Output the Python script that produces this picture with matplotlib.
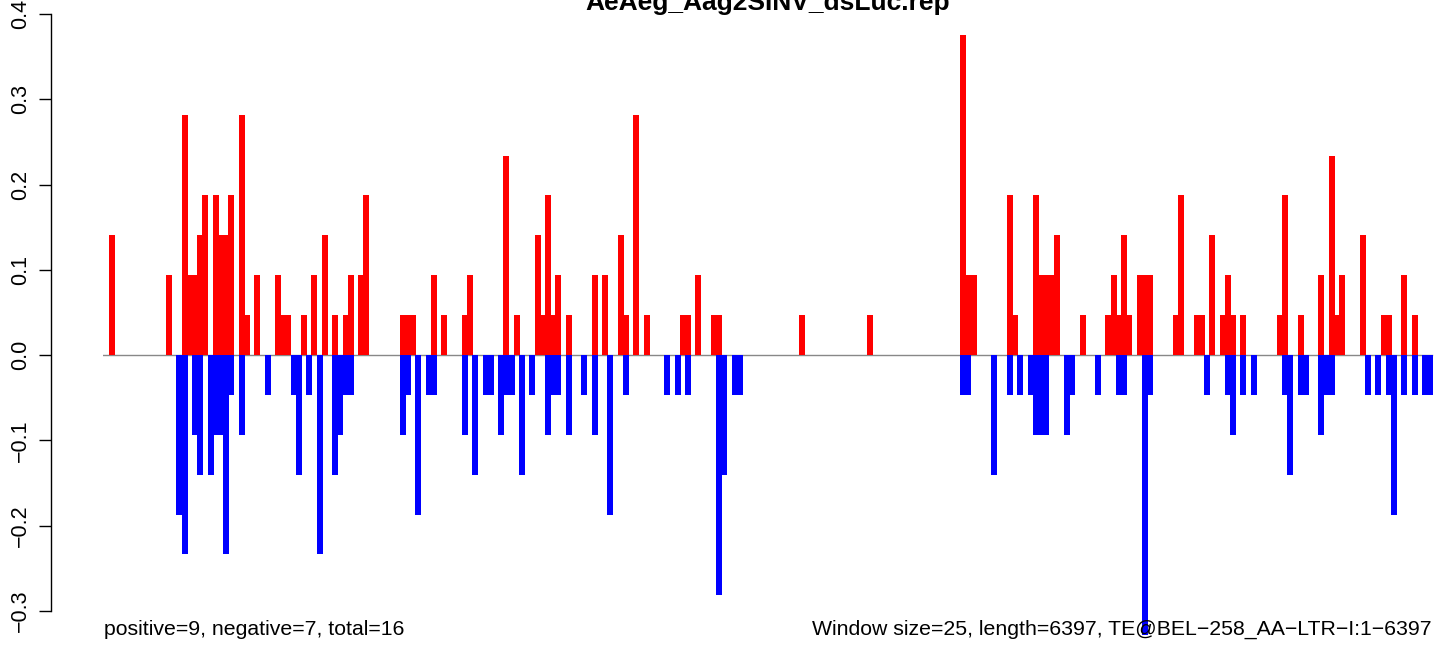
import matplotlib
matplotlib.use("Agg")
import matplotlib.pyplot as plt

# ---------------- data ----------------
title = "AeAeg_Aag2SINV_dsLuc.rep"
left_note = "positive=9, negative=7, total=16"
right_note = "Window size=25, length=6397, TE@BEL\u2212258_AA\u2212LTR\u2212I:1\u22126397"

y_ticks = [-0.3, -0.2, -0.1, 0.0, 0.1, 0.2, 0.3, 0.4]
y_tick_labels = ["\u22120.3", "\u22120.2", "\u22120.1", "0.0", "0.1", "0.2", "0.3", "0.4"]

# window indices (25 bp windows) and values of the positive (red) strand
pos_windows = [0, 11, 14, 15, 16, 17, 18, 20, 21, 22, 23, 25, 26, 28,
               32, 33, 34, 37, 39, 41, 43, 45, 46, 48, 49, 56, 57, 58, 62,
               64, 68, 69, 76, 78, 82, 83, 84, 85, 86, 88, 93,
               95, 98, 99, 101, 103, 110, 111, 113, 116, 117,
               133, 146,
               164, 165, 166, 173, 174, 178, 179, 180, 181, 182, 187, 192,
               193, 194, 195, 196, 198, 199, 200, 205, 206, 209, 210, 212,
               214, 215, 216, 218,
               225, 226, 229, 233, 235, 236, 237, 241, 245, 246, 249, 251]
pos_values = [0.141, 0.094, 0.281, 0.094, 0.094, 0.141, 0.188, 0.188, 0.141, 0.141, 0.188, 0.281, 0.047, 0.094,
              0.094, 0.047, 0.047, 0.047, 0.094, 0.141, 0.047, 0.047, 0.094, 0.094, 0.188, 0.047, 0.047, 0.047, 0.094,
              0.047, 0.047, 0.094, 0.234, 0.047, 0.141, 0.047, 0.188, 0.047, 0.094, 0.047, 0.094,
              0.094, 0.141, 0.047, 0.281, 0.047, 0.047, 0.047, 0.094, 0.047, 0.047,
              0.047, 0.047,
              0.375, 0.094, 0.094, 0.188, 0.047, 0.188, 0.094, 0.094, 0.094, 0.141, 0.047, 0.047,
              0.094, 0.047, 0.141, 0.047, 0.094, 0.094, 0.094, 0.047, 0.188, 0.047, 0.047, 0.141,
              0.047, 0.094, 0.047, 0.047,
              0.047, 0.188, 0.047, 0.094, 0.234, 0.047, 0.094, 0.141, 0.047, 0.047, 0.094, 0.047]

# window indices and values of the negative (blue) strand
neg_windows = [13, 14, 16, 17, 19, 20, 21, 22, 23, 25, 30,
               35, 36, 38, 40, 43, 44, 45, 46, 56, 57, 59, 61, 62,
               68, 70, 72, 73, 75, 76, 77, 79, 81, 84, 85, 86, 88, 91, 93,
               96, 99, 107, 109, 111, 117, 118, 120, 121,
               164, 165, 170, 173, 175, 177, 178, 179, 180, 184, 185, 190,
               194, 195, 199, 200, 211, 215, 216, 218, 220,
               226, 227, 229, 230, 233, 234, 235, 242, 244, 246, 247, 249, 251, 253, 254]
neg_values = [-0.188, -0.234, -0.094, -0.141, -0.141, -0.094, -0.094, -0.234, -0.047, -0.094, -0.047,
              -0.047, -0.141, -0.047, -0.234, -0.141, -0.094, -0.047, -0.047, -0.094, -0.047, -0.188, -0.047, -0.047,
              -0.094, -0.141, -0.047, -0.047, -0.094, -0.047, -0.047, -0.141, -0.047, -0.094, -0.047, -0.047, -0.094, -0.047, -0.094,
              -0.188, -0.047, -0.047, -0.047, -0.047, -0.281, -0.141, -0.047, -0.047,
              -0.047, -0.047, -0.141, -0.047, -0.047, -0.047, -0.094, -0.094, -0.094, -0.094, -0.047, -0.047,
              -0.047, -0.047, -0.328, -0.047, -0.047, -0.047, -0.094, -0.047, -0.047,
              -0.047, -0.141, -0.047, -0.047, -0.094, -0.047, -0.047, -0.047, -0.047, -0.047, -0.188, -0.047, -0.047, -0.047, -0.047]

# ---------------- figure ----------------
W, H, DPI = 1444, 656, 100
plt.rcParams['font.family'] = ['Liberation Sans', 'DejaVu Sans']

fig = plt.figure(figsize=(W / DPI, H / DPI), dpi=DPI)

# layout in pixels
ax_left_px, ax_right_px = 103, 1436
ax_top_px, ax_bot_px = 5, 645
zero_px = 355.0
px_per_unit_y = 852.5          # pixels per 1.0 on the y axis
first_bar_px, win_px = 112.0, 5.19

ax = fig.add_axes([ax_left_px / W, 1 - ax_bot_px / H,
                   (ax_right_px - ax_left_px) / W, (ax_bot_px - ax_top_px) / H])
ax.set_xlim((ax_left_px - first_bar_px) / win_px, (ax_right_px - first_bar_px) / win_px)
ax.set_ylim(-(ax_bot_px - zero_px) / px_per_unit_y, (zero_px - ax_top_px) / px_per_unit_y)

bar_w = 6.0 / win_px
ax.axhline(0, xmin=0, xmax=(1432 - ax_left_px) / (ax_right_px - ax_left_px),
           color='#888888', lw=1.0, zorder=1)
ax.bar(pos_windows, pos_values, width=bar_w, color='#FF0000', linewidth=0,
       zorder=2, clip_on=False)
ax.bar(neg_windows, neg_values, width=bar_w, color='#0000FF', linewidth=0,
       zorder=2, clip_on=False)

for s in ['top', 'right', 'bottom']:
    ax.spines[s].set_visible(False)
ax.spines['left'].set_position(('outward', (ax_left_px - 51) * 72 / DPI))
ax.spines['left'].set_bounds(-0.3, 0.4)
ax.spines['left'].set_linewidth(1.0)
ax.set_xticks([])
ax.set_yticks(y_ticks)
ax.set_yticklabels(y_tick_labels, rotation=90, va='center', fontsize=15.5)
ax.tick_params(axis='y', length=12 * 72 / DPI, width=1.0, pad=6)
ax.patch.set_alpha(0)

fig.text(767.5 / W, 1 - 10 / H, title, ha='center', va='baseline',
         fontsize=19, fontweight='bold')
fig.text(104 / W, 1 - 635 / H, left_note, ha='left', va='baseline', fontsize=15.35)
fig.text(1432 / W, 1 - 635 / H, right_note, ha='right', va='baseline', fontsize=15.35)

fig.savefig('out.png', dpi=DPI)
